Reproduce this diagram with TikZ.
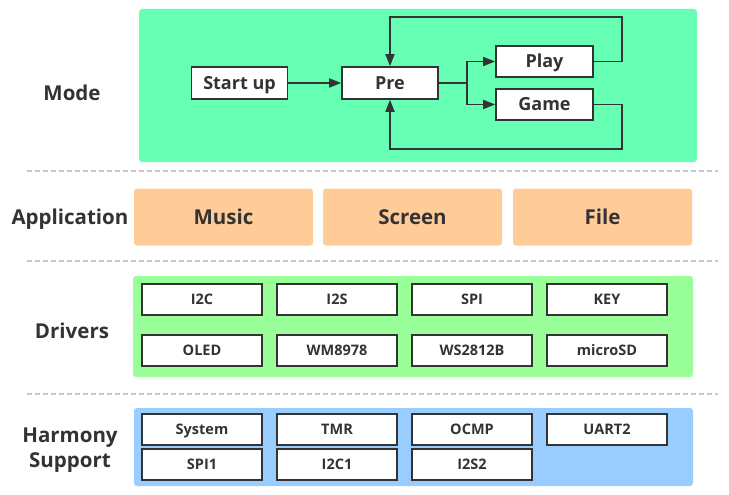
\documentclass[tikz,border=0pt]{standalone}
\usepackage{fontspec}
\setmainfont{Open Sans}
\usetikzlibrary{arrows.meta}
\definecolor{modecol}{HTML}{66FFB3}
\definecolor{appcol}{HTML}{FFCC99}
\definecolor{drvcol}{HTML}{99FF99}
\definecolor{harcol}{HTML}{99CCFF}
\definecolor{ink}{HTML}{333333}
\definecolor{dashcol}{HTML}{C8C8C8}
\tikzset{
  layerlabel/.style={font=\bfseries\fontsize{20.5}{25}\selectfont, text=ink, align=center},
  bigcap/.style={text height=14.6pt, text depth=0pt},
  appbox/.style={fill=appcol, rounded corners=3pt, minimum width=179pt, minimum height=57pt, font=\bfseries\fontsize{20.5}{24}\selectfont, text=ink, inner sep=0pt, bigcap},
  modebox/.style={draw=ink, line width=1.7pt, fill=white, minimum width=96pt, minimum height=32pt, font=\bfseries\fontsize{18}{21}\selectfont, text=ink, inner sep=0pt, text height=12.9pt, text depth=0pt},
  cellbox/.style={draw=ink, line width=1.7pt, fill=white, minimum width=120pt, minimum height=31pt, font=\bfseries\fontsize{14.5}{17}\selectfont, text=ink, inner sep=0pt, text height=10.35pt, text depth=0pt},
  flow/.style={draw=ink, line width=1.7pt, -{Triangle[length=12pt,width=9pt]}},
  sep/.style={draw=dashcol, line width=1.5pt, dash pattern=on 5pt off 3pt},
}
\begin{document}
\begin{tikzpicture}[x=1pt,y=-1pt]
\useasboundingbox (0,0) rectangle (729,495);
% panels
\fill[modecol, rounded corners=3pt] (139,9) rectangle (697,162);
\fill[drvcol, rounded corners=3pt] (133,276) rectangle (693,377);
\fill[harcol, rounded corners=3pt] (134,408) rectangle (693,486);
% separators
\coordinate (s1a) at (27,171); \coordinate (s1b) at (718,171);
\coordinate (s2a) at (27,261); \coordinate (s2b) at (718,261);
\coordinate (s3a) at (27,394); \coordinate (s3b) at (718,394);
\draw[sep] (s1a) -- (s1b);
\draw[sep] (s2a) -- (s2b);
\draw[sep] (s3a) -- (s3b);
% labels
\node[layerlabel, bigcap, inner sep=0pt] (lmode) at (72,93) {Mode};
\node[layerlabel, bigcap, inner sep=0pt] (lapp) at (70,217) {Application};
\node[layerlabel, bigcap, inner sep=0pt] (ldrv) at (72,331) {Drivers};
\node[layerlabel, anchor=base] (lhar) at (70,467) {Harmony\\Support};
% application
\node[appbox] (music) at (223.5,217) {Music};
\node[appbox] (screen) at (412.5,217) {Screen};
\node[appbox] (file) at (602.5,217) {File};
% mode
\node[modebox] (start) at (239.5,83) {Start up};
\node[modebox] (pre) at (390,83) {Pre};
\node[modebox, minimum width=97pt, minimum height=31pt] (play) at (544.5,61.5) {Play};
\node[modebox, minimum width=97pt, minimum height=31pt] (game) at (544.5,104.5) {Game};
\coordinate (j) at (467,83);
\coordinate (pt) at (622,17);
\coordinate (gb) at (622,149);
\draw[flow] (start) -- (pre);
\draw[flow] (pre.east) -- (j) |- (play.west);
\draw[flow] (j) |- (game.west);
\draw[flow] (play.east) -| (pt) -| (pre.north);
\draw[flow] (game.east) -| (gb) -| (pre.south);
% drivers
\node[cellbox] (i2c) at (202,299.5) {I2C};
\node[cellbox] (i2s) at (337,299.5) {I2S};
\node[cellbox] (spi) at (472,299.5) {SPI};
\node[cellbox] (key) at (607,299.5) {KEY};
\node[cellbox] (oled) at (202,350.5) {OLED};
\node[cellbox] (wm) at (337,350.5) {WM8978};
\node[cellbox] (ws) at (472,350.5) {WS2812B};
\node[cellbox] (sd) at (607,350.5) {microSD};
% harmony
\node[cellbox] (sys) at (202,429.5) {System};
\node[cellbox] (tmr) at (337,429.5) {TMR};
\node[cellbox] (ocmp) at (472,429.5) {OCMP};
\node[cellbox] (uart) at (607,429.5) {UART2};
\node[cellbox] (spi1) at (202,464.5) {SPI1};
\node[cellbox] (i2c1) at (337,464.5) {I2C1};
\node[cellbox] (i2s2) at (472,464.5) {I2S2};
\end{tikzpicture}
\end{document}
